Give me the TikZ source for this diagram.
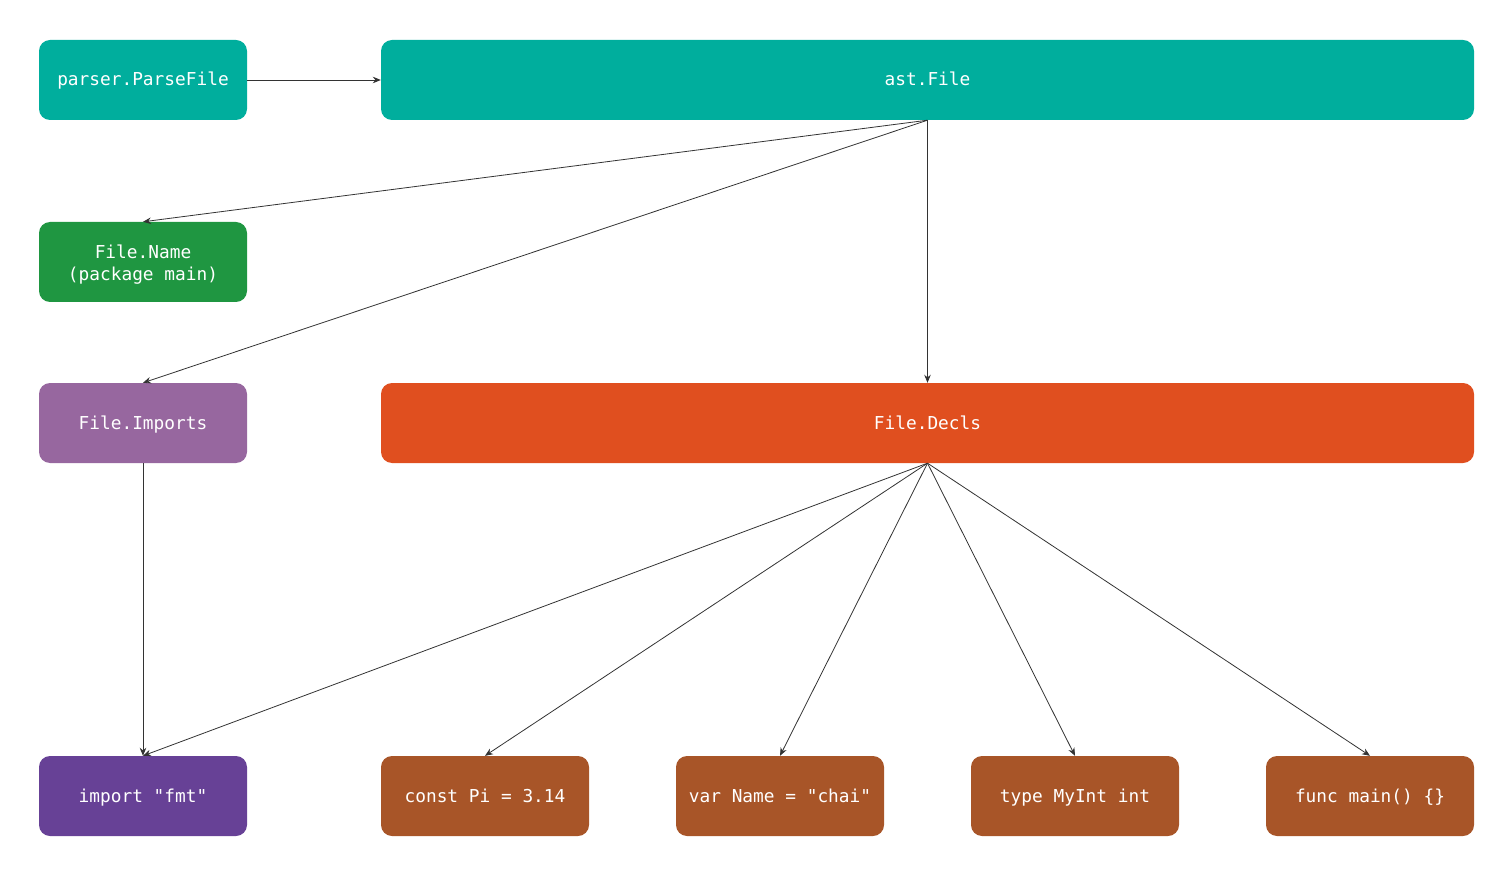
\documentclass[tikz,border=0pt]{standalone}
\usepackage{fontspec}
\setmonofont{DejaVu Sans Mono}
\usetikzlibrary{arrows.meta}
\definecolor{cteal}{HTML}{00AE9D}
\definecolor{cgreen}{HTML}{1F9641}
\definecolor{cpurp}{HTML}{97679F}
\definecolor{corange}{HTML}{E04F1F}
\definecolor{cdpurp}{HTML}{674196}
\definecolor{cbrown}{HTML}{A85528}
\definecolor{cline}{HTML}{333333}
\begin{document}
\begin{tikzpicture}[x=1pt,y=-1pt,
  box/.style={rounded corners=11pt, inner sep=0pt, text=white, align=center,
    font=\ttfamily\fontsize{17.8}{21.5}\selectfont},
  one/.style={text height=12pt, text depth=0pt},
  conn/.style={draw=cline, line width=0.8pt, -{Stealth[length=8pt,width=6.5pt]}}]
\useasboundingbox (0,0) rectangle (1512,874);
\newcommand{\bx}[6]{%
  \node[box, fill=#6, minimum width={#4-#2}, minimum height={#5-#3}] (#1) at ({(#2+#4)/2},{(#3+#5)/2}) {};}
\bx{parse}{39}{40}{247}{120}{cteal}
\bx{ast}{381}{40}{1474}{120}{cteal}
\bx{name}{39}{222}{247}{302}{cgreen}
\bx{imports}{39}{383}{247}{463}{cpurp}
\bx{decls}{381}{383}{1474}{463}{corange}
\bx{fmt}{39}{756}{247}{836}{cdpurp}
\bx{const}{381}{756}{589}{836}{cbrown}
\bx{var}{676}{756}{884}{836}{cbrown}
\bx{type}{971}{756}{1179}{836}{cbrown}
\bx{func}{1266}{756}{1474}{836}{cbrown}
\node[box,one] at (parse) {parser.ParseFile};
\node[box,one] at (ast) {ast.File};
\node[box,yshift=-2.5pt] at (name) {File.Name\\(package main)};
\node[box,one] at (imports) {File.Imports};
\node[box,one] at (decls) {File.Decls};
\node[box,one] at (fmt) {import "fmt"};
\node[box,one] at (const) {const Pi = 3.14};
\node[box,one] at (var) {var Name = "chai"};
\node[box,one] at (type) {type MyInt int};
\node[box,one] at (func) {func main() \{\}};
\draw[conn] (parse.east) -- (ast.west);
\draw[conn] (ast.south) -- (name.north);
\draw[conn] (ast.south) -- (imports.north);
\draw[conn] (ast.south) -- (decls.north);
\draw[conn] (imports.south) -- (fmt.north);
\draw[conn] (decls.south) -- (fmt.north);
\draw[conn] (decls.south) -- (const.north);
\draw[conn] (decls.south) -- (var.north);
\draw[conn] (decls.south) -- (type.north);
\draw[conn] (decls.south) -- (func.north);
\end{tikzpicture}
\end{document}
